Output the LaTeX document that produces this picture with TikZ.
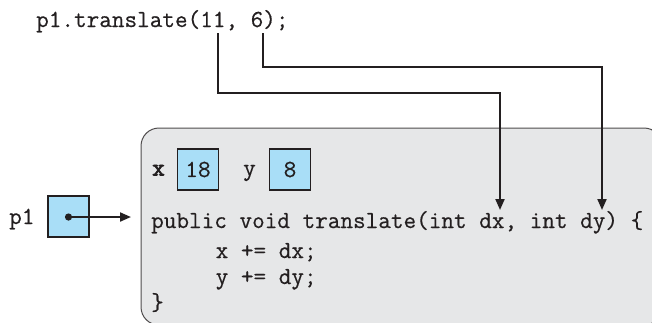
\documentclass[tikz,border=0pt]{standalone}
\usepackage{fontspec}
\setmonofont{Latin Modern Mono}[FakeBold=0.5]
\newfontfamily\ttboldx{Latin Modern Mono}[FakeBold=3]
\usetikzlibrary{arrows.meta}
\definecolor{ink}{HTML}{231F20}
\definecolor{cellblue}{HTML}{A9DEF7}
\definecolor{panel}{HTML}{E6E7E8}
\newcommand{\codefont}{\fontsize{24.5}{26}\ttfamily}
\begin{document}
\begin{tikzpicture}[x=1pt,y=-1pt,
  code/.style={font=\codefont, text=ink, inner sep=0pt, anchor=base west},
  cell/.style={draw=ink, line width=1.3pt, fill=cellblue, minimum width=41pt, minimum height=41pt, inner sep=0pt, font=\codefont, text=ink},
  wire/.style={draw=ink, line width=2pt},
  tip/.style={-{Triangle[length=11pt,width=9pt]}}
]
\useasboundingbox (0,0) rectangle (652,322);
\begin{scope}
\clip (0,0) rectangle (652,322);
\draw[draw=ink!80, line width=1pt, fill=panel, rounded corners=18pt] (141,128) rectangle (662,325);
\end{scope}

% call text
\node[code] (call) at (36,27) {p1.translate(11, 6);};

% fields
\node[code, font=\fontsize{24.5}{26}\ttboldx] (xlab) at (152,175.5) {x};
\node[cell] (xval) at (198,169.5) {18};
\node[code] (ylab) at (243,175.5) {y};
\node[cell] (yval) at (290,169.5) {8};

% code
\node[code] (sig) at (151,228) {public void translate(int dx, int dy) \{};
\node[code] (l1) at (215.5,258) {x += dx;};
\node[code] (l2) at (215.5,284) {y += dy;};
\node[code] (l3) at (151,310) {\}};

% reference variable
\node[code] (p1lab) at (9,224) {p1};
\node[cell] (p1box) at (68.5,216.5) {};
\coordinate (dot) at (68.5,217);
\coordinate (target) at (131,217);
\fill[ink] (dot) circle (3.6pt);
\draw[wire, tip] (dot) -- (target);

% parameter connectors
\coordinate (s1) at (218,33);
\coordinate (e1) at (500,210);
\coordinate (s2) at (263,33);
\coordinate (e2) at (602,210);
\draw[wire, tip] (s1) |- (300,93) -| (e1);
\draw[wire, tip] (s2) |- (400,67) -| (e2);
\end{tikzpicture}
\end{document}
